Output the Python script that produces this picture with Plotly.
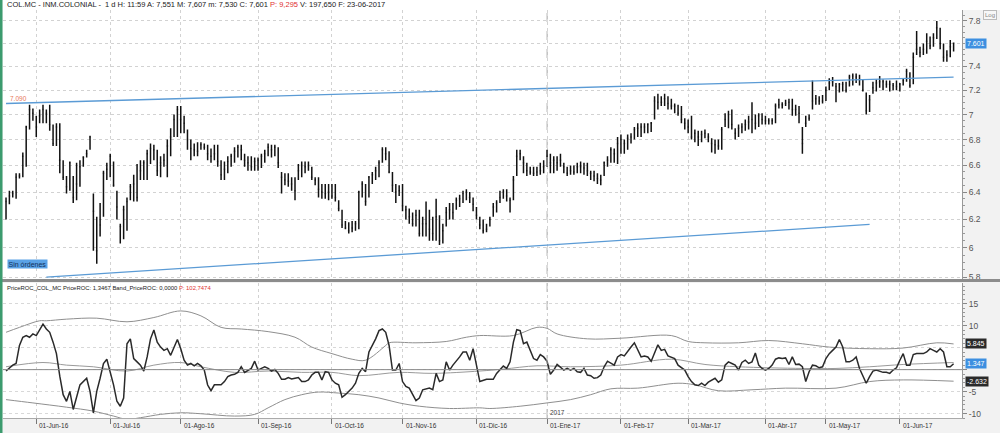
import math
import pandas as pd
import plotly.graph_objects as go

# ---------------- price data (daily OHLC, COL.MC) ----------------
highs = [
6.36,6.41,6.41,6.54,6.54,6.70,6.91,7.08,7.05,6.99,
7.04,7.08,7.04,7.08,6.92,6.93,6.93,6.64,6.52,6.63,
6.52,6.62,6.64,6.67,6.72,6.83,6.39,6.22,6.32,6.56,
6.62,6.69,6.63,6.41,6.17,6.30,6.36,6.46,6.53,6.61,
6.64,6.64,6.72,6.77,6.76,6.72,6.67,6.69,6.80,6.89,
7.00,7.07,7.07,6.99,6.88,6.80,6.77,6.78,6.78,6.77,
6.76,6.73,6.76,6.76,6.64,6.63,6.67,6.69,6.74,6.76,
6.76,6.69,6.67,6.67,6.66,6.66,6.69,6.72,6.77,6.76,
6.76,6.74,6.55,6.54,6.54,6.51,6.51,6.61,6.63,6.63,
6.63,6.59,6.51,6.51,6.46,6.46,6.46,6.46,6.46,6.34,
6.27,6.19,6.18,6.19,6.19,6.41,6.48,6.46,6.52,6.55,
6.59,6.64,6.74,6.74,6.71,6.55,6.46,6.45,6.46,6.30,
6.28,6.25,6.27,6.27,6.22,6.33,6.27,6.22,6.35,6.23,
6.17,6.29,6.32,6.32,6.36,6.38,6.41,6.42,6.40,6.36,
6.29,6.22,6.20,6.17,6.22,6.32,6.34,6.41,6.42,6.42,
6.36,6.52,6.72,6.72,6.67,6.62,6.59,6.59,6.59,6.62,
6.64,6.72,6.69,6.67,6.67,6.69,6.62,6.59,6.60,6.60,
6.62,6.63,6.62,6.62,6.56,6.56,6.54,6.53,6.63,6.67,
6.74,6.73,6.82,6.84,6.80,6.84,6.85,6.90,6.93,6.93,
6.93,6.93,6.94,7.15,7.17,7.15,7.17,7.15,7.13,7.09,
7.08,7.07,6.97,6.96,6.99,6.88,6.87,6.87,6.88,6.85,
6.81,6.80,6.80,6.90,7.01,7.03,7.04,6.89,6.92,6.93,
6.96,6.99,7.10,7.00,7.01,7.01,6.99,6.97,6.97,7.09,
7.13,7.10,7.12,7.13,7.13,7.08,7.07,6.90,6.99,7.00,
7.28,7.16,7.15,7.16,7.23,7.30,7.31,7.26,7.26,7.27,
7.27,7.33,7.34,7.34,7.33,7.29,7.18,7.16,7.27,7.29,
7.32,7.29,7.28,7.28,7.26,7.28,7.26,7.30,7.38,7.35,
7.52,7.71,7.57,7.60,7.69,7.66,7.69,7.80,7.74,7.60,
7.54,7.63,7.607]

lows = [
6.20,6.31,6.36,6.35,6.50,6.51,6.59,6.88,6.95,6.82,
6.93,6.93,6.93,6.87,6.75,6.75,6.54,6.49,6.39,6.41,
6.32,6.34,6.44,6.59,6.66,6.72,5.98,5.89,6.08,6.22,
6.49,6.51,6.44,6.20,6.03,6.06,6.12,6.34,6.33,6.33,
6.49,6.49,6.49,6.61,6.64,6.52,6.51,6.59,6.51,6.67,
6.82,6.82,6.85,6.85,6.72,6.64,6.67,6.67,6.72,6.72,
6.64,6.62,6.64,6.59,6.49,6.49,6.54,6.59,6.62,6.66,
6.64,6.59,6.56,6.56,6.56,6.56,6.58,6.62,6.67,6.66,
6.67,6.58,6.39,6.45,6.44,6.41,6.34,6.49,6.51,6.54,
6.56,6.49,6.45,6.36,6.35,6.35,6.34,6.35,6.33,6.26,
6.14,6.13,6.10,6.11,6.12,6.13,6.36,6.30,6.36,6.46,
6.49,6.51,6.62,6.64,6.54,6.40,6.32,6.37,6.26,6.20,
6.17,6.15,6.15,6.08,6.08,6.08,6.05,6.05,6.05,6.02,
6.03,6.15,6.20,6.20,6.27,6.29,6.32,6.34,6.32,6.26,
6.20,6.13,6.10,6.11,6.15,6.22,6.25,6.32,6.35,6.33,
6.25,6.34,6.52,6.64,6.54,6.52,6.53,6.52,6.52,6.53,
6.54,6.59,6.54,6.54,6.56,6.59,6.54,6.52,6.53,6.53,
6.54,6.54,6.53,6.52,6.49,6.48,6.46,6.45,6.52,6.59,
6.62,6.62,6.61,6.69,6.69,6.72,6.77,6.80,6.82,6.82,
6.85,6.85,6.86,6.96,7.04,7.07,7.07,7.04,7.04,7.01,
6.99,6.93,6.88,6.85,6.80,6.78,6.75,6.78,6.81,6.78,
6.70,6.69,6.72,6.72,6.90,6.89,6.88,6.80,6.82,6.85,
6.87,6.88,6.85,6.88,6.90,6.92,6.92,6.92,6.92,6.93,
7.05,7.05,7.07,7.04,6.99,6.99,6.93,6.69,6.90,6.95,
7.04,7.08,7.08,7.09,7.11,7.20,7.23,7.10,7.18,7.19,
7.18,7.23,7.24,7.26,7.24,7.19,7.00,7.02,7.17,7.19,
7.22,7.20,7.22,7.19,7.20,7.20,7.19,7.24,7.27,7.22,
7.25,7.50,7.48,7.50,7.51,7.55,7.57,7.64,7.55,7.44,
7.44,7.48,7.530]

closes = [
6.33,6.37,6.39,6.51,6.52,6.67,6.90,7.04,7.01,6.90,
6.99,7.04,7.01,6.92,6.77,6.90,6.64,6.51,6.44,6.62,
6.36,6.46,6.59,6.66,6.69,6.82,6.26,5.98,6.16,6.54,
6.57,6.67,6.45,6.29,6.15,6.27,6.33,6.44,6.46,6.36,
6.56,6.62,6.69,6.73,6.72,6.56,6.62,6.64,6.75,6.82,
6.96,7.04,6.96,6.93,6.80,6.73,6.72,6.71,6.76,6.74,
6.69,6.67,6.69,6.63,6.53,6.57,6.63,6.67,6.71,6.74,
6.72,6.64,6.62,6.59,6.63,6.64,6.67,6.69,6.74,6.72,
6.74,6.62,6.51,6.49,6.48,6.46,6.41,6.56,6.60,6.59,
6.60,6.51,6.49,6.42,6.40,6.39,6.40,6.37,6.36,6.28,
6.16,6.14,6.12,6.14,6.17,6.40,6.46,6.33,6.51,6.53,
6.56,6.62,6.72,6.69,6.55,6.45,6.40,6.41,6.30,6.27,
6.22,6.17,6.23,6.10,6.17,6.17,6.13,6.10,6.22,6.05,
6.12,6.25,6.27,6.25,6.34,6.35,6.39,6.40,6.36,6.31,
6.23,6.16,6.12,6.13,6.20,6.29,6.32,6.36,6.40,6.37,
6.34,6.49,6.67,6.69,6.62,6.56,6.55,6.54,6.55,6.56,
6.59,6.67,6.62,6.64,6.62,6.64,6.59,6.54,6.56,6.55,
6.59,6.59,6.58,6.56,6.54,6.52,6.50,6.49,6.62,6.64,
6.72,6.69,6.77,6.80,6.77,6.81,6.82,6.88,6.89,6.90,
6.90,6.92,6.93,7.11,7.10,7.10,7.13,7.09,7.07,7.07,
7.01,6.96,6.93,6.90,6.82,6.85,6.82,6.84,6.85,6.82,
6.77,6.76,6.75,6.88,6.96,7.00,6.92,6.85,6.89,6.90,
6.92,6.94,6.96,6.93,6.99,6.96,6.95,6.95,6.95,7.07,
7.08,7.08,7.09,7.10,7.04,7.04,7.01,6.77,6.93,6.97,
7.11,7.13,7.11,7.11,7.20,7.26,7.27,7.23,7.25,7.25,
7.20,7.31,7.32,7.31,7.29,7.20,7.03,7.12,7.22,7.26,
7.27,7.27,7.25,7.25,7.24,7.23,7.25,7.28,7.36,7.24,
7.48,7.55,7.52,7.55,7.62,7.58,7.65,7.74,7.60,7.48,
7.50,7.57,7.601]

# trend lines / levels (trading-day number, price)
trend_upper_days = [0, 282]
trend_upper_vals = [7.09, 7.31]
trend_lower_days = [12, 257]
trend_lower_vals = [5.80, 6.165]
resistance_level = 7.09

# ---------------- PriceROC panel (vertices) ----------------
roc_days = [0,2,3,4,5,6,7,8,9,10,11,12,13,14,15,16,17,18,19,20,21,22,24,25,26,27,28,29,30,
31,32,33,34,35,36,37,38,39,40,41,42,43,44,45,46,47,48,49,50,51,52,53,54,55,56,57,58,59,60,
61,62,64,65,66,67,68,69,70,71,72,73,74,75,76,77,78,79,80,81,82,83,84,85,86,87,88,89,90,
91,92,93,94,95,96,97,98,99,100,101,103,104,105,106,107,108,110,111,112,113,114,115,116,117,
118,119,120,121,122,123,124,126,127,128,129,130,131,132,133,135,136,137,138,139,140,141,
143,145,146,148,149,150,151,152,153,154,155,156,157,158,159,160,161,162,163,164,165,166,
167,168,169,170,171,172,173,174,175,176,177,178,179,180,181,182,183,184,185,186,187,188,
189,190,191,192,193,194,195,196,197,198,199,200,202,203,204,205,206,207,208,209,210,211,
212,213,214,215,216,217,218,219,220,221,222,223,224,225,226,227,228,229,230,231,232,233,
234,235,236,237,238,239,240,241,242,243,244,245,246,247,248,249,250,251,252,253,254,255,
256,257,258,259,260,261,262,263,264,265,266,267,268,269,270,271,272,273,274,275,276,277,
278,279,280,281,282]
roc_vals = [-0.32,1.02,1.40,5.50,7.37,7.75,7.37,8.12,7.75,9.24,10.36,9.24,8.49,6.25,3.64,-1.5,
-5.70,-7.20,-4.95,-9.06,-6.45,-3.46,-1.97,-4.95,-9.81,-4.95,-1.97,1.40,2.37,
-0.47,-3.46,-7.20,-8.32,-6.45,5.88,7.00,2.52,1.77,1.02,-0.32,2.89,7.00,9.02,6.25,5.13,4.38,
4.76,3.26,5.13,6.85,4.76,2.14,1.02,1.40,0.87,1.40,0.87,-0.10,-3.5,
-4.80,-3.46,-3.46,-2.71,-1.59,-1.22,-1.07,-0.62,0.65,-0.62,-0.10,0.27,1.92,-0.10,0.27,0.65,
0.27,-0.32,0.05,-0.85,-2.19,-2.19,-1.82,-2.12,-1.97,-1.82,-2.71,-2.71,-2.34,
-1.22,-0.62,-0.62,-2.34,-0.47,-0.62,-2.34,-3.09,-3.46,-6.3,-5.70,-4.21,-3.09,-0.85,0.27,
-0.47,4.01,7.00,8.87,9.24,8.49,5.50,-0.10,-0.10,1.40,
-2.71,-3.83,-4.21,-5.70,-7.05,-6.45,-4.58,-4.21,-4.58,-0.85,-2.71,-2.34,1.77,-0.10,1.02,
2.89,4.01,4.01,2.14,4.76,0.80,-2.71,
-2.19,-2.19,-0.85,0.80,0.27,1.77,6.25,9.09,8.87,5.88,6.25,4.38,2.52,2.14,3.41,2.89,1.92,
-1.07,-0.10,1.17,0.42,-0.10,
0.27,-0.10,0.27,-0.47,-0.62,0.27,-1.22,-1.37,-1.97,-1.82,-1.22,0.65,1.92,1.40,1.02,2.89,
3.41,3.11,4.01,5.13,6.10,4.38,
2.89,3.11,2.89,1.92,4.01,5.65,4.38,4.61,3.11,2.89,2.52,1.02,-0.10,-1.59,-2.71,-3.46,-3.61,
-3.09,-3.61,-2.86,-2.34,-1.97,
-2.86,-2.34,1.02,1.77,1.40,1.02,-0.10,1.62,2.14,1.40,1.77,3.79,1.02,0.27,-0.10,0.27,1.02,
2.37,2.67,2.52,2.67,1.17,
2.89,1.17,1.25,0.65,-2.71,-0.47,1.02,0.87,0.42,0.65,2.52,3.64,4.38,5.13,6.85,5.13,1.77,
1.77,2.14,2.89,0.27,-1.59,
-3.09,-1.59,-0.32,-0.10,-0.32,-0.62,-0.62,-0.85,-0.10,0.42,2.14,3.64,1.02,1.02,3.41,3.64,
3.64,3.64,4.01,4.76,4.38,4.01,
4.76,4.01,0.65,0.65,1.347]

band_up_days = [0,4,10,12,18,27,36,44,52,58,64,70,78,86,91,97,103,107,113,114,122,131,137,141,
151,158,161,164,173,183,198,203,208,218,227,237,245,257,267,277,282]
band_up_vals = [8.49,9.61,11.11,11.11,11.48,11.70,10.88,11.85,13.35,12.23,9.61,9.24,8.64,7.37,
5.13,3.64,2.37,2.14,5.50,6.10,6.10,6.40,7.37,7.75,
7.75,9.61,9.39,8.12,7.00,7.15,7.75,6.40,6.10,6.10,6.62,5.88,5.13,4.76,4.91,6.10,5.845]

band_lo_days = [0,8,18,26,32,36,40,46,52,58,68,74,78,83,88,93,99,105,111,117,123,132,141,144,
153,161,168,174,180,188,200,205,212,222,232,247,257,267,282]
band_lo_vals = [-6.82,-7.57,-8.54,-9.44,-10.56,-11.30,-10.93,-10.18,-9.81,-10.03,-10.56,-10.18,
-8.69,-6.82,-5.70,-5.10,-5.33,-5.70,-6.45,-7.57,-8.32,-8.84,-8.69,-8.84,
-8.32,-7.57,-6.82,-5.70,-4.36,-4.21,-3.09,-3.46,-4.80,-4.58,-4.21,-4.21,-2.71,-2.34,-2.632]

band_mid_days = [0,11,18,26,36,44,52,58,68,78,88,97,105,117,127,141,148,158,168,183,198,208,218,
237,247,257,267,282]
band_mid_vals = [0.65,1.62,1.02,0.65,-0.32,1.02,1.62,0.65,-0.62,-0.32,-0.62,-0.62,-1.37,-0.62,
-0.85,-0.32,0.12,0.87,0.65,1.02,2.37,1.17,0.65,0.27,0.27,0.65,1.17,1.62]

month_keys = ['2016-06','2016-07','2016-08','2016-09','2016-10','2016-11','2016-12',
              '2017-01','2017-02','2017-03','2017-04','2017-05','2017-06']
month_labels = ['01-Jun-16','01-Jul-16','01-Ago-16','01-Sep-16','01-Oct-16','01-Nov-16','01-Dic-16',
                '01-Ene-17','01-Feb-17','01-Mar-17','01-Abr-17','01-May-17','01-Jun-17']
price_ticks = [5.8,6.0,6.2,6.4,6.6,6.8,7.0,7.2,7.4,7.6,7.8]
price_ticktext = ['5.8','6','6.2','6.4','6.6','6.8','7','7.2','7.4','','7.8']
roc_ticks = [-10,-5,0,5,10,15]
roc_ticktext = ['-10','-5','','','10','15']

# ---------------- trading days ----------------
holidays = ['2016-12-26','2017-04-14','2017-04-17','2017-05-01']
days = pd.bdate_range('2016-05-19', '2017-06-23')
days = days[~days.isin(pd.to_datetime(holidays))]
x = list(days.strftime('%Y-%m-%d'))
n = min(len(x), len(closes))
x = x[:n]

def X(idx_list):
    return [x[min(i, n - 1)] for i in idx_list]

month_first = [next(d for d in x if d.startswith(k)) for k in month_keys]
year_start = next(d for d in x if d.startswith('2017'))

fig = go.Figure()

fig.add_trace(go.Ohlc(
    x=x, open=closes[:n], high=highs[:n], low=lows[:n], close=closes[:n],
    increasing_line_color='#111111', decreasing_line_color='#111111',
    line_width=1.5, tickwidth=0.25, xaxis='x', yaxis='y', hoverinfo='skip'))

fig.add_trace(go.Scatter(x=X(trend_upper_days), y=trend_upper_vals, mode='lines',
                         line=dict(color='#5b9bd5', width=1.3), xaxis='x', yaxis='y', hoverinfo='skip'))
fig.add_trace(go.Scatter(x=X(trend_lower_days), y=trend_lower_vals, mode='lines',
                         line=dict(color='#5b9bd5', width=1.3), xaxis='x', yaxis='y', hoverinfo='skip'))

# ROC panel
fig.add_trace(go.Scatter(x=X(band_up_days), y=band_up_vals, mode='lines', line_shape='spline',
                         line=dict(color='#8f8f8f', width=1), xaxis='x', yaxis='y2', hoverinfo='skip'))
fig.add_trace(go.Scatter(x=X(band_lo_days), y=band_lo_vals, mode='lines', line_shape='spline',
                         line=dict(color='#8f8f8f', width=1), xaxis='x', yaxis='y2', hoverinfo='skip'))
fig.add_trace(go.Scatter(x=X(band_mid_days), y=band_mid_vals, mode='lines', line_shape='spline',
                         line=dict(color='#9a9a9a', width=1), xaxis='x', yaxis='y2', hoverinfo='skip'))
fig.add_trace(go.Scatter(x=X(roc_days), y=roc_vals, mode='lines',
                         line=dict(color='#2a2a2a', width=1.5), xaxis='x', yaxis='y2', hoverinfo='skip'))

PW = 959.0  # plot width in px
def px2paper(px):
    return (px - 3) / PW

shapes = [
    dict(type='line', xref='paper', x0=0, x1=1, yref='y', y0=math.log10(resistance_level),
         y1=math.log10(resistance_level), line=dict(color='#f4a582', width=2)),
    dict(type='line', xref='paper', x0=0, x1=1, yref='y2', y0=0, y1=0,
         line=dict(color='#8a8a8a', width=1)),
    dict(type='line', xref='x', x0=year_start, x1=year_start, yref='paper', y0=0, y1=1,
         line=dict(color='#b8b8b8', width=1, dash='dash')),
    dict(type='line', xref='paper', x0=px2paper(0), x1=px2paper(1000), yref='paper',
         y0=(418 - 280.5) / 408, y1=(418 - 280.5) / 408, line=dict(color='#8c8c8c', width=3)),
    dict(type='rect', xref='paper', x0=px2paper(0), x1=px2paper(2.5), yref='paper', y0=-0.04, y1=1.03,
         fillcolor='#3c9b6e', line=dict(width=0)),
    dict(type='rect', xref='paper', x0=px2paper(2.5), x1=px2paper(1000), yref='paper',
         y0=1.0, y1=1.03, fillcolor='white', line=dict(width=0), layer='below'),
]

F = 'Liberation Sans'
annotations = [
    dict(xref='paper', yref='paper', x=0.002, y=1.0, xanchor='left', yanchor='bottom',
         text=("COL.MC - INM.COLONIAL -  1 d H: 11:59 A: 7,551 M: 7,607 m: 7,530 C: 7,601 "
               "<span style='color:#e03030'>P: 9,295</span> V: 197,650 F: 23-06-2017"),
         showarrow=False, font=dict(family=F, size=7.5, color='#222'), yshift=-1),
    dict(xref='paper', yref='paper', x=0.002, y=(418 - 283) / 408, xanchor='left', yanchor='top',
         text=("PriceROC_COL_MC PriceROC: 1,3467 Band_PriceROC: 0,0000 "
               "<span style='color:#e03030'>P: 102,7474</span>"),
         showarrow=False, font=dict(family=F, size=5.9, color='#222')),
    dict(xref='paper', yref='y', x=0.005, y=math.log10(resistance_level), xanchor='left',
         yanchor='bottom', text='7.090', showarrow=False, font=dict(family=F, size=6.5, color='#e8785c'),
         yshift=-1),
    dict(xref='paper', yref='y', x=0.004, y=math.log10(5.89), xanchor='left', yanchor='middle',
         text='Sin órdenes', showarrow=False, bgcolor='#5aa2e6', borderpad=0.5,
         font=dict(family=F, size=7, color='#13305a')),
    dict(xref='paper', yref='y', x=1.0, y=math.log10(closes[n - 1]), xanchor='left', yanchor='middle',
         xshift=3, text=f'{closes[n-1]:.3f}', showarrow=False, bgcolor='#3d8fe0', borderpad=1,
         font=dict(family=F, size=7, color='white')),
    dict(xref='paper', yref='y2', x=1.0, y=band_up_vals[-1], xanchor='left', yanchor='middle',
         xshift=3, text=f'{band_up_vals[-1]:.3f}', showarrow=False, bgcolor='#2a2a2a', borderpad=1,
         font=dict(family=F, size=7, color='white')),
    dict(xref='paper', yref='y2', x=1.0, y=roc_vals[-1], xanchor='left', yanchor='middle',
         xshift=3, text=f'{roc_vals[-1]:.3f}', showarrow=False, bgcolor='#3d8fe0', borderpad=1,
         font=dict(family=F, size=7, color='white')),
    dict(xref='paper', yref='y2', x=1.0, y=band_lo_vals[-1], xanchor='left', yanchor='middle',
         xshift=3, text=f'{band_lo_vals[-1]:.3f}', showarrow=False, bgcolor='#2a2a2a', borderpad=1,
         font=dict(family=F, size=7, color='white')),
    dict(xref='paper', yref='paper', x=px2paper(990), y=(418 - 15) / 408, xanchor='center',
         yanchor='middle', text='Log', showarrow=False, bordercolor='#bbb', borderwidth=1,
         bgcolor='#f7f7f7', borderpad=1, font=dict(family=F, size=6, color='#888')),
    dict(xref='x', yref='paper', x=year_start, y=0, xanchor='left', yanchor='bottom',
         text='2017', showarrow=False, font=dict(family=F, size=6.5, color='#444'), xshift=1),
]
for d, lab in zip(month_first, month_labels):
    annotations.append(dict(xref='x', yref='paper', x=d, y=0, xanchor='left', yanchor='top',
                            text=lab, showarrow=False, yshift=-2, xshift=1,
                            font=dict(family=F, size=6.5, color='#333')))

minor_price = [round(5.8 + 0.05 * k, 2) for k in range(0, 43)]

fig.update_layout(
    width=1000, height=433,
    margin=dict(l=3, r=38, t=10, b=15),
    paper_bgcolor='#f2f2f2', plot_bgcolor='white',
    showlegend=False, hovermode=False,
    font=dict(family=F, size=8, color='#555'),
    xaxis=dict(type='category', categoryorder='array', categoryarray=x,
               range=[-0.9, 284.5], anchor='y2', tickvals=month_first, showticklabels=False,
               ticks='outside', ticklen=5, tickcolor='#777', showgrid=True, gridcolor='#d2d2d2',
               griddash='dot', showline=True, linecolor='#aaa', rangeslider=dict(visible=False),
               fixedrange=True),
    yaxis=dict(domain=[(418 - 279) / 408, 1.0], type='log', side='right', anchor='x',
               range=[0.7625, 0.8976], tickvals=price_ticks, ticktext=price_ticktext,
               ticks='outside', ticklen=4, tickcolor='#888', showline=True, linecolor='#999',
               showgrid=True, gridcolor='#d2d2d2', griddash='dot', zeroline=False,
               tickfont=dict(family=F, size=8.5, color='#555'),
               minor=dict(tickvals=minor_price, ticks='outside', ticklen=2, tickcolor='#999',
                          showgrid=False)),
    yaxis2=dict(domain=[0, (418 - 283) / 408], side='right', anchor='x', range=[-11, 19.7],
                tickvals=roc_ticks, ticktext=roc_ticktext, ticks='outside', ticklen=4,
                tickcolor='#888', showline=True, linecolor='#999', showgrid=True,
                gridcolor='#d8d8d8', griddash='dot', zeroline=False,
                tickfont=dict(family=F, size=8.5, color='#555'),
                minor=dict(dtick=1, ticks='outside', ticklen=2, tickcolor='#999', showgrid=False)),
    shapes=shapes, annotations=annotations,
)

fig.write_html('out.html', config={'displayModeBar': False, 'staticPlot': True},
               post_script="document.body.style.margin='0px';document.body.style.padding='0px';")
